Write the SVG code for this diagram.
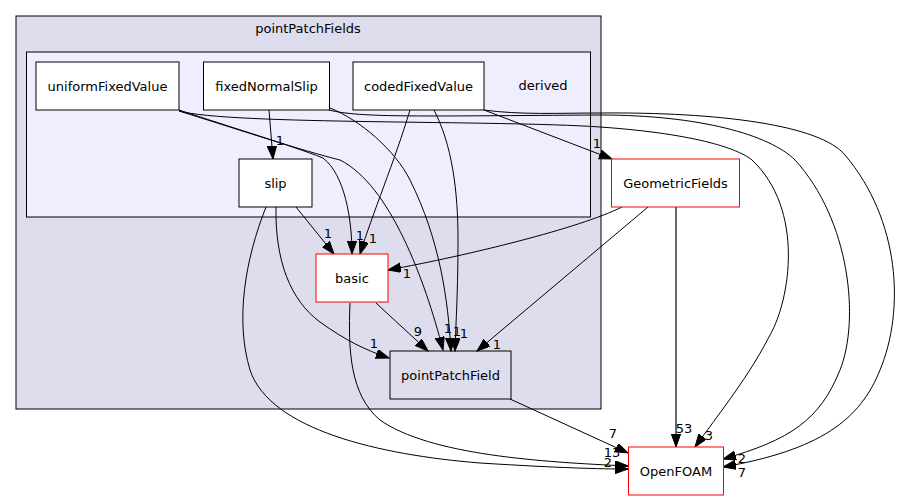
<svg xmlns="http://www.w3.org/2000/svg" width="904" height="500" viewBox="0 0 904 500">
<style>
text{font-family:"DejaVu Sans","Liberation Sans",sans-serif;font-size:13px;fill:#000;text-anchor:middle}
.node{fill:#fff;stroke:#000;stroke-width:1}
.red{fill:#fff;stroke:#ff0000;stroke-width:1}
.e{fill:none;stroke:#000;stroke-width:1;marker-end:url(#ah)}
.thick{fill:none;stroke:#404040;stroke-width:1.6;marker-end:url(#ah)}
</style>
<defs>
<marker id="ah" markerUnits="userSpaceOnUse" markerWidth="14" markerHeight="10" refX="13" refY="4.65" orient="auto">
<path d="M0,0 L13,4.65 L0,9.3 z" fill="#000" stroke="#000"/>
</marker>
</defs>
<g id="cluster_pointPatchFields">
<rect x="16" y="16" width="585" height="393" fill="#ddddee" stroke="#000"/>
<text x="308" y="32.5">pointPatchFields</text>
</g>
<g id="cluster_derived">
<rect x="26.5" y="52" width="564" height="165" fill="#eeeeff" stroke="#000"/>
<text x="543" y="89.5">derived</text>
</g>
<g id="edges">
<path class="e" d="M179,110 C230,127 290,145 323,158 C345,175 352,220 352,254"/>
<path class="e" d="M179,111 C240,130 300,150 340,160 C390,185 425,280 443,350"/>
<path class="e" d="M179,111 C230,125 500,120 600,127 C700,134 740,150 752,160 C805,210 790,300 770,335 C750,375 718,415 695,447"/>
<path class="e" d="M269,110 L273,159"/>
<path class="e" d="M330,108 C360,120 395,150 410,180 C440,240 448,300 451,351"/>
<path class="e" d="M329,110 C360,118 420,116 600,115 C700,115 770,135 795,160 C850,220 860,320 840,370 C820,420 790,440 723,459"/>
<path class="e" d="M484,110 C520,115 560,113 600,113 C720,112 820,125 845,155 C900,220 905,310 880,370 C860,420 820,450 723,467"/>
<path class="e" d="M410,110 C395,160 372,215 360,254"/>
<path class="e" d="M434,110 C452,145 458,190 458,240 C458,290 456,320 455,351"/>
<path class="e" d="M484,110 L612,159"/>
<path class="e" d="M296,207 L334,254"/>
<path class="e" d="M276,207 C275,260 290,300 320,322 C345,340 365,350 389,358"/>
<path class="e" d="M266,207 C245,260 235,320 250,370 C270,430 380,455 480,463 C560,468 600,469 628,469"/>
<path class="e" d="M376,303 L428,351"/>
<path class="e" d="M350,303 C348,350 350,395 380,420 C430,455 540,462 628,466"/>
<path class="e" d="M510,399 L628,453"/>
<path class="e" d="M622,207 C580,228 470,255 388,270"/>
<path class="e" d="M648,207 L477,351"/>
<path class="thick" d="M676,207 L676,447"/>
<text x="280" y="145">1</text>
<text x="328" y="238">1</text>
<text x="360" y="240">1</text>
<text x="373" y="243">1</text>
<text x="374" y="348">1</text>
<text x="418" y="336">9</text>
<text x="448" y="333">1</text>
<text x="457" y="336">1</text>
<text x="464" y="338">1</text>
<text x="497" y="349">1</text>
<text x="407" y="278">1</text>
<text x="597" y="148">1</text>
<text x="684" y="433">53</text>
<text x="709" y="440">3</text>
<text x="742" y="463">2</text>
<text x="742" y="477">7</text>
<text x="613" y="438">7</text>
<text x="612" y="457">13</text>
<text x="608" y="467">2</text>
</g>
<g id="node_uniformFixedValue">
<rect class="node" x="36" y="62" width="143" height="48"/>
<text x="107.5" y="90.5">uniformFixedValue</text>
</g>
<g id="node_fixedNormalSlip">
<rect class="node" x="203.5" y="62" width="126" height="48"/>
<text x="266.5" y="90.5">fixedNormalSlip</text>
</g>
<g id="node_codedFixedValue">
<rect class="node" x="353" y="62" width="131" height="48"/>
<text x="418.5" y="90.5">codedFixedValue</text>
</g>
<g id="node_slip">
<rect class="node" x="239" y="159" width="73" height="48"/>
<text x="275.5" y="187.5">slip</text>
</g>
<g id="node_basic">
<rect class="red" x="316" y="254" width="72" height="48"/>
<text x="352" y="282.5">basic</text>
</g>
<g id="node_pointPatchField">
<rect x="390" y="351" width="121" height="48" fill="none" stroke="#000"/>
<text x="450.5" y="379.5">pointPatchField</text>
</g>
<g id="node_GeometricFields">
<rect class="red" x="611.5" y="159" width="128" height="48"/>
<text x="675.5" y="187.5">GeometricFields</text>
</g>
<g id="node_OpenFOAM">
<rect class="red" x="628.5" y="447" width="95" height="48"/>
<text x="676" y="475.5">OpenFOAM</text>
</g>
</svg>
